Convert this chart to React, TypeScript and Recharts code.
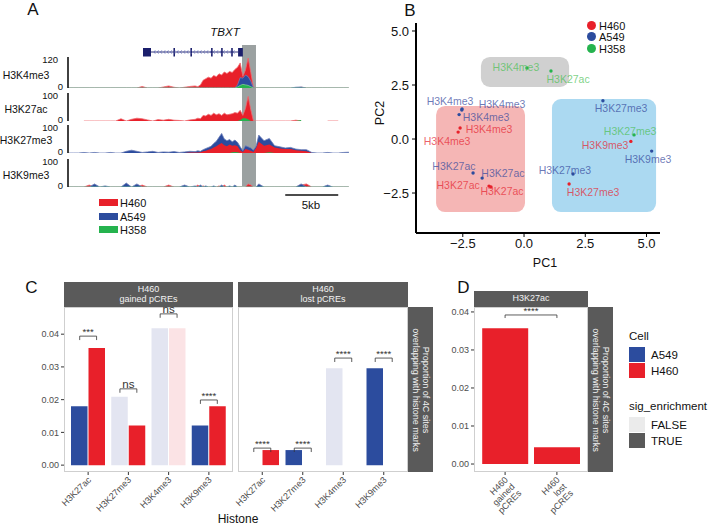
import React from 'react';
import {
  AreaChart, Area, XAxis, YAxis, ComposedChart, Line, LineChart,
  ReferenceArea, ReferenceLine, ReferenceDot, ScatterChart, Scatter,
  BarChart, Bar, Cell,
} from 'recharts';

const FONT = '"Liberation Sans", Arial, Helvetica, sans-serif';
const RED = '#e8202a';
const BLUE = '#2c4c9e';
const GREEN = '#25b34e';
const RED_LIGHT = '#fbe3e5';
const BLUE_LIGHT = '#e3e5f1';
const STRIP = '#5a5a5a';
const NAVY = '#1b1f6c';

// ================= Panel A data (genomic tracks, kb from left edge) =================
const trackKb = [
  0, 0.5, 1, 1.5, 2, 2.5, 3, 3.5, 4, 4.5, 5, 5.5, 6, 6.5, 7, 7.5, 8, 8.5, 9, 9.5, 10, 10.5, 11, 11.5,
  12, 12.25, 12.5, 12.75, 13, 13.25, 13.5, 13.75, 14, 14.25, 14.5, 14.75, 15, 15.25, 15.5, 15.75, 16, 16.25, 16.5, 16.75, 17, 17.25, 17.5, 17.75, 18,
  18.5, 19, 19.5, 20, 20.5, 21, 21.5, 22, 22.5, 23, 23.5, 24, 24.5, 25, 25.5, 26, 26.5,
];
const trackNames = ['H3K4me3', 'H3K27ac', 'H3K27me3', 'H3K9me3'];
const trackMax = [120, 100, 100, 100];

const k4H460 = [
  0, 0, 0, 0, 0, 0, 0, 0, 0, 0, 0, 0, 0, 0, 6, 0, 0, 0, 4, 8, 3, 0, 3, 6,
  8, 5, 12, 30, 36, 42, 38, 48, 44, 55, 50, 62, 56, 64, 60, 72, 80, 97, 45, 70, 116, 60, 2, 0, 0,
  0, 0, 0, 0, 0, 0, 0, 3, 0, 0, 0, 0, 0, 0, 0, 0, 0,
];
const k4A549 = [
  0, 0, 0, 0, 0, 0, 0, 0, 0, 0, 0, 0, 0, 0, 0, 0, 0, 0, 0, 0, 0, 0, 0, 0,
  0, 0, 0, 0, 0, 0, 0, 0, 0, 0, 0, 0, 0, 0, 0, 0, 12, 40, 38, 50, 44, 26, 0, 0, 0,
  0, 0, 0, 0, 0, 0, 3, 4, 0, 0, 0, 0, 0, 0, 0, 0, 0,
];
const k4H358 = [
  0, 0, 0, 0, 0, 0, 0, 0, 0, 0, 0, 0, 0, 0, 0, 0, 0, 0, 0, 0, 0, 0, 0, 0,
  0, 0, 0, 0, 0, 0, 0, 0, 0, 0, 0, 0, 0, 0, 0, 0, 4, 10, 14, 12, 10, 5, 0, 0, 0,
  0, 0, 0, 0, 0, 0, 0, 0, 0, 0, 0, 0, 0, 0, 0, 0, 0,
];

const k27acH460 = [
  null, null, null, 0, 0, 0, 0, 0, 0, 0, 8, 0, 6, 10, 8, 4, 0, 5, 3, 6, 3, 2, 0, 4,
  6, 10, 8, 20, 18, 24, 20, 28, 22, 26, 20, 28, 22, 24, 26, 30, 28, 38, 20, 45, 88, 40, 0, 0, 0,
  0, 0, 0, 0, 0, 0, 3, 0, null, null, null, null, 0, 0, 0, null, null,
];
const k27acA549 = [
  null, null, null, 0, 0, 0, 0, 0, 0, 0, 0, 0, 0, 0, 0, 0, 0, 0, 0, 0, 0, 0, 0, 0,
  0, 0, 0, 0, 0, 0, 0, 0, 0, 0, 0, 0, 0, 0, 0, 0, 0, 0, 0, 0, 0, 0, 0, 0, 0,
  0, 0, 0, 0, 0, 0, 0, 0, null, null, null, null, 0, 0, 0, null, null,
];
const k27acH358 = [
  null, null, null, 0, 0, 0, 0, 0, 0, 0, 0, 0, 0, 0, 0, 0, 0, 0, 0, 0, 0, 0, 0, 0,
  0, 0, 0, 0, 0, 0, 0, 0, 0, 0, 0, 0, 0, 0, 0, 0, 0, 4, 10, 10, 6, 0, 0, 0, 0,
  0, 0, 0, 0, 0, 0, 0, 4, null, null, null, null, 0, 0, 0, null, null,
];

const k27me3H460 = [
  0, 0, 0, 0, 0, 0, 0, 0, 0, 0, 0, 0, 0, 0, 0, 0, 0, 0, 0, 0, 0, 0, 0, 2,
  2, 2, 3, 6, 8, 12, 14, 20, 24, 30, 36, 28, 24, 30, 26, 28, 24, 10, 4, 14, 12, 8, 4, 18, 40,
  26, 30, 20, 16, 14, 14, 10, 8, 6, 0, 0, 0, 0, 0, 0, 0, 0,
];
const k27me3A549 = [
  0, 0, 0, 2, 0, 2, 0, 0, 2, 0, 0, 6, 10, 6, 2, 4, 6, 2, 4, 3, 5, 2, 4, 6,
  5, 8, 6, 12, 16, 20, 24, 34, 42, 56, 70, 50, 44, 48, 40, 46, 38, 22, 8, 26, 22, 18, 10, 24, 64,
  44, 52, 26, 22, 18, 20, 14, 12, 12, 2, 0, 0, 2, 0, 0, 2, 3,
];
const k27me3H358 = [
  0, 0, 0, 0, 0, 0, 0, 0, 0, 0, 0, 0, 0, 0, 0, 0, 0, 0, 0, 0, 0, 0, 0, 0,
  0, 0, 0, 0, 0, 0, 0, 0, 0, 0, 0, 0, 0, 0, 3, 4, 3, 0, 0, 0, 0, 0, 0, 0, 0,
  0, 3, 0, 0, 0, 0, 0, 0, 0, 0, 0, 0, 0, 0, 0, 0, 0,
];

const k9H460 = [
  0, 0, 0, 0, 7, 0, 0, 0, 0, 0, 0, 0, 0, 0, 7, 0, 0, 0, 0, 7, 0, 0, 0, 0,
  0, 7, 0, 4, 0, 0, 0, 0, 0, 4, 0, 7, 0, 0, 0, 0, 0, 0, 0, 0, 11, 7, 0, 0, 0,
  0, 0, 0, 0, 0, 0, 0, 7, 11, 0, 0, 0, 0, 0, 0, 0, 0,
];
const k9A549 = [
  0, 0, 0, 0, 0, 11, 0, 4, 0, 0, 0, 14, 0, 11, 0, 0, 0, 0, 0, 0, 0, 0, 7, 0,
  4, 0, 7, 0, 4, 0, 0, 4, 0, 0, 7, 0, 0, 4, 0, 7, 0, 0, 0, 0, 0, 0, 0, 0, 11,
  0, 0, 0, 0, 0, 0, 0, 11, 0, 0, 0, 0, 7, 0, 0, 0, 0,
];
const k9H358 = [
  0, 0, 0, 0, 0, 0, 0, 0, 0, 0, 0, 0, 0, 0, 0, 0, 0, 0, 0, 0, 0, 0, 0, 0,
  0, 0, 0, 0, 0, 0, 0, 0, 0, 0, 0, 0, 0, 0, 0, 0, 0, 0, 0, 0, 0, 0, 0, 0, 0,
  0, 0, 0, 0, 0, 0, 0, 0, 0, 0, 0, 0, 0, 0, 0, 0, 0,
];

const geneExonStart = [7.08, 9.95, 11.55, 13.5, 14.45, 15.4, 16.05];
const geneExonEnd = [7.83, 10.1, 11.7, 13.65, 14.6, 15.55, 16.5];
const highlightKb = [16.42, 17.74];
const scaleBarKb = [20.5, 25.5];

// ================= Panel B data (PCA) =================
const pcaCell = ['H358', 'H358', 'H358', 'A549', 'A549', 'A549', 'H460', 'H460', 'A549', 'A549', 'H460', 'H460', 'A549', 'A549', 'H460', 'H460', 'A549'];
const pcaMark = ['H3K4me3', 'H3K27ac', 'H3K27me3', 'H3K4me3', 'H3K4me3', 'H3K4me3', 'H3K4me3', 'H3K4me3', 'H3K27ac', 'H3K27ac', 'H3K27ac', 'H3K27ac', 'H3K27me3', 'H3K27me3', 'H3K27me3', 'H3K9me3', 'H3K9me3'];
const pcaX = [0.12, 1.10, 4.49, -2.54, -2.65, -2.53, -2.61, -2.69, -2.08, -1.71, -1.43, -1.35, 3.22, 2.00, 1.84, 4.36, 5.21];
const pcaY = [3.29, 3.15, 0.19, 1.34, 1.13, 1.39, 0.51, 0.32, -1.57, -1.81, -2.18, -2.22, 1.77, -1.62, -2.08, -0.11, -0.56];
const pcaLabelX = [-0.33, 1.80, 4.33, -3.02, -1.55, -0.90, -1.43, -3.14, -2.86, -0.86, -2.69, -0.90, 3.96, 1.67, 2.82, 3.31, 5.06];
const pcaLabelY = [3.33, 2.78, 0.37, 1.76, 1.02, 1.62, 0.46, -0.09, -1.25, -1.57, -2.13, -2.41, 1.44, -1.44, -2.45, -0.28, -0.93];
const pcaCells = ['H460', 'A549', 'H358'];
const pcaBoxX1 = [-1.76, -3.59, 1.14];
const pcaBoxX2 = [1.84, 0.04, 5.39];
const pcaBoxY1 = [2.41, -3.38, -3.38];
const pcaBoxY2 = [3.80, 1.53, 1.85];
const pcaTicks = [-2.5, 0, 2.5, 5];

// ================= Panel C / D data =================
const histones = ['H3K27ac', 'H3K27me3', 'H3K4me3', 'H3K9me3'];
const gainedA549 = [0.018, 0.0209, 0.0418, 0.0121];
const gainedA549Sig = [true, false, false, true];
const gainedH460 = [0.0358, 0.0121, 0.0418, 0.018];
const gainedH460Sig = [true, true, false, true];
const lostA549 = [0, 0.0046, 0.0296, 0.0296];
const lostA549Sig = [true, true, false, true];
const lostH460 = [0.0046, 0, 0, 0];
const lostH460Sig = [true, true, true, true];
const gainedBracketY = [0.0394, 0.0233, 0.0462, 0.0199];
const gainedBracketLabel = ['***', 'ns', 'ns', '****'];
const lostBracketY = [0.0052, 0.0052, 0.0327, 0.0327];
const lostBracketLabel = ['****', '****', '****', '****'];
const propTicks = [0, 0.01, 0.02, 0.03, 0.04];

const dCategories = ['H460\ngained\npCREs', 'H460\nlost\npCREs'];
const dValues = [0.0357, 0.0044];
const dBracketY = 0.0392;
const dBracketLabel = '****';

// ================= helpers =================
const CELL_COLOR: Record<string, string> = { H460: RED, A549: BLUE, H358: GREEN };
const LABEL_COLOR: Record<string, string> = { H460: '#e52530', A549: '#34489c', H358: '#4cbf55' };

const Txt = ({ x, y, size, anchor = 'middle', color = '#111', italic = false, children }: any) => {
  const tx = anchor === 'middle' ? '-50%' : anchor === 'end' ? '-100%' : '0';
  return (
    <div style={{
      position: 'absolute', left: x, top: y, transform: `translate(${tx},-50%)`,
      fontSize: size, lineHeight: 1, whiteSpace: 'nowrap', color,
      fontStyle: italic ? 'italic' : 'normal',
    }}>{children}</div>
  );
};

const Box = ({ x, y, w, h, bg, border }: any) => (
  <div style={{ position: 'absolute', left: x, top: y, width: w, height: h, background: bg, border, boxSizing: 'border-box' }} />
);

// ---------- Panel A ----------
const TRACK_LAYOUT = [
  { top: 57, base: 88 }, { top: 93, base: 121 }, { top: 125, base: 153 }, { top: 159, base: 187 },
];
const trackSeries: any[] = [
  { H460: k4H460, A549: k4A549, H358: k4H358 },
  { H460: k27acH460, A549: k27acA549, H358: k27acH358 },
  { H460: k27me3H460, A549: k27me3A549, H358: k27me3H358 },
  { H460: k9H460, A549: k9A549, H358: k9H358 },
];
const TRACK_ORDER = [['H460', 'A549', 'H358'], ['A549', 'H460', 'H358'], ['A549', 'H460', 'H358'], ['H460', 'A549', 'H358']];
const TRACK_STROKE = [['H460', 'A549', 'H358'], ['H460'], ['A549'], ['H460', 'A549', 'H358']];
const TRACK_FILL: Record<string, string> = { H460: RED, A549: BLUE, H358: GREEN };
const TRACK_LINE: Record<string, string> = { H460: '#ef6a70', A549: '#6d7fb8', H358: '#7fd08f' };

const TrackTick = (props: any) => {
  const { x, y, payload } = props;
  const zero = payload.value === 0;
  return (
    <text x={x - (zero ? 5 : 10)} y={y + (zero ? -2 : 2)} textAnchor="end" dominantBaseline="central" fontSize={9.5} fill="#111">
      {payload.value}
    </text>
  );
};

const Track = ({ i }: { i: number }) => {
  const { top, base } = TRACK_LAYOUT[i];
  const s = trackSeries[i];
  const rows = trackKb.map((kb, j) => ({ kb, H460: s.H460[j], A549: s.A549[j], H358: s.H358[j] }));
  return (
    <div style={{ position: 'absolute', left: 0, top: top - 6 }}>
      <AreaChart width={352} height={base - top + 12} data={rows} margin={{ top: 6, right: 0, bottom: 6, left: 0 }}>
        <XAxis type="number" dataKey="kb" domain={[0, 26.8]} hide allowDataOverflow />
        <YAxis width={68} type="number" domain={[0, trackMax[i]]} ticks={[0, trackMax[i]]} interval={0}
          tickSize={0} tickMargin={0} tickLine={false} axisLine={{ stroke: '#111', strokeWidth: 1.6 }}
          tick={TrackTick} allowDataOverflow />
        {TRACK_ORDER[i].map((k) => (
          <Area key={k} type="linear" dataKey={k} fill={TRACK_FILL[k]} fillOpacity={1}
            stroke={TRACK_STROKE[i].includes(k) ? TRACK_LINE[k] : 'none'} strokeWidth={0.8}
            dot={false} activeDot={false} isAnimationActive={false} baseValue={0} />
        ))}
      </AreaChart>
    </div>
  );
};

const Intron = (p: any) => {
  const { x1, x2, y1 } = p;
  const marks = [];
  for (let x = x1 + 3; x < x2 - 3; x += 3.3) {
    marks.push(<path key={x} d={`M${x + 1.3},${y1 - 1.7}L${x},${y1}L${x + 1.3},${y1 + 1.7}`} stroke="#5a63b5" strokeWidth={0.7} fill="none" />);
  }
  return (
    <g>
      <line x1={x1} y1={y1} x2={x2} y2={y1} stroke={NAVY} strokeWidth={0.9} />
      {marks}
    </g>
  );
};

const PanelAOverlay = () => {
  const barRows = scaleBarKb.map((kb) => ({ kb, y: 195 }));
  return (
    <div style={{ position: 'absolute', left: 0, top: 0 }}>
      <ComposedChart width={352} height={215} data={barRows} margin={{ top: 0, right: 0, bottom: 0, left: 68 }}>
        <XAxis type="number" dataKey="kb" domain={[0, 26.8]} hide allowDataOverflow />
        <YAxis type="number" domain={[0, 215]} reversed hide allowDataOverflow />
        <ReferenceArea x1={highlightKb[0]} x2={highlightKb[1]} y1={45} y2={186} fill="#9ba1a1" fillOpacity={1} stroke="none" />
        <ReferenceLine segment={[{ x: geneExonEnd[0], y: 52 }, { x: geneExonStart[geneExonStart.length - 1], y: 52 }]} shape={Intron} />
        {geneExonStart.map((s, i) => (
          <ReferenceArea key={i} x1={s} x2={geneExonEnd[i]} y1={48} y2={56.5} fill={NAVY} fillOpacity={1} stroke="none" />
        ))}
        <Line dataKey="y" stroke="#111" strokeWidth={1.6} dot={false} activeDot={false} isAnimationActive={false} />
      </ComposedChart>
    </div>
  );
};

// ---------- Panel B ----------
const fmtPc = (v: number) => (v < 0 ? '\u2212' : '') + Math.abs(v).toFixed(1);
const PcaDot = (p: any) => <circle cx={p.cx} cy={p.cy} r={1.7} fill={CELL_COLOR[p.payload.cell]} />;
const PcaLabel = (p: any) => (
  <text x={p.cx} y={p.cy} textAnchor="middle" dominantBaseline="central" fontSize={10.5}
    fill={LABEL_COLOR[p.payload.cell]} fillOpacity={0.72}>{p.payload.mark}</text>
);
const BOX_FILL = ['#d0d0d0', '#f5b6b5', '#abd9f1'];

const PcaPanel = () => {
  const pts = pcaMark.map((m, i) => ({ mark: m, cell: pcaCell[i], x: pcaX[i], y: pcaY[i] }));
  const labs = pcaMark.map((m, i) => ({ mark: m, cell: pcaCell[i], x: pcaLabelX[i], y: pcaLabelY[i] }));
  return (
    <div style={{ position: 'absolute', left: 360, top: 0 }}>
      <ScatterChart width={310} height={275} margin={{ top: 23, right: 10, bottom: 0, left: 0 }}>
        <XAxis type="number" dataKey="x" domain={[-4.41, 5.55]} ticks={pcaTicks} interval={0} height={42}
          tickFormatter={fmtPc} tick={{ fontSize: 13, fill: '#111' }} tickSize={4} tickMargin={2}
          axisLine={{ stroke: '#000', strokeWidth: 2 }} tickLine={{ stroke: '#000' }} />
        <YAxis type="number" dataKey="y" domain={[-4.35, 5.37]} ticks={pcaTicks} interval={0} width={56}
          tickFormatter={fmtPc} tick={{ fontSize: 13, fill: '#111' }} tickSize={4} tickMargin={3}
          axisLine={{ stroke: '#000', strokeWidth: 2 }} tickLine={{ stroke: '#000' }} />
        {pcaBoxX1.map((x1, i) => (
          <ReferenceArea key={i} x1={x1} x2={pcaBoxX2[i]} y1={pcaBoxY1[i]} y2={pcaBoxY2[i]}
            shape={(p: any) => <rect x={p.x} y={p.y} width={p.width} height={p.height} rx={9} ry={9} fill={BOX_FILL[i]} />} />
        ))}
        {pcaCells.map((c) => (
          <Scatter key={c} name={c} data={pts.filter((p) => p.cell === c)} shape={PcaDot} isAnimationActive={false} />
        ))}
        <Scatter name="labels" data={labs} shape={PcaLabel} isAnimationActive={false} legendType="none" />
      </ScatterChart>
    </div>
  );
};

// ---------- Panel C / D ----------
const RotTick = (props: any) => {
  const { x, y, payload } = props;
  const lines = String(payload.value).split('\n');
  return (
    <g transform={`translate(${x},${y})`}>
      <text transform="rotate(-45)" textAnchor="end" fontSize={9} fill="#4d4d4d">
        {lines.map((l, i) => (
          <tspan key={i} x={0} dy={i === 0 ? '0.55em' : '1.05em'}>{l}</tspan>
        ))}
      </text>
    </g>
  );
};

const C_DOMAIN = [-0.0021, 0.0483];
const D_DOMAIN = [-0.0021, 0.0413];

const Facet = ({ left, yw, width, a549, a549Sig, h460, h460Sig }: any) => {
  const rows = histones.map((h, i) => ({ histone: h, A549: a549[i], H460: h460[i] }));
  return (
    <div style={{ position: 'absolute', left, top: 307 }}>
      <BarChart width={width} height={215} data={rows} margin={{ top: 0, right: 0, bottom: 0, left: 0 }} barGap={1}>
        <XAxis dataKey="histone" padding={{ left: 4, right: 4 }} axisLine={false} tickLine={{ stroke: '#333' }}
          tickSize={3} tickMargin={2} interval={0} height={50} tick={RotTick} />
        <YAxis width={yw} hide={yw === 0} type="number" domain={C_DOMAIN} ticks={propTicks} interval={0} allowDataOverflow
          tickFormatter={(v: number) => v.toFixed(2)} tick={{ fontSize: 9, fill: '#4d4d4d' }}
          tickLine={{ stroke: '#333' }} tickSize={3} tickMargin={2} axisLine={false} />
        <Bar dataKey="A549" barSize={16.5} isAnimationActive={false}>
          {rows.map((_, i) => <Cell key={i} fill={a549Sig[i] ? BLUE : BLUE_LIGHT} />)}
        </Bar>
        <Bar dataKey="H460" barSize={16.5} isAnimationActive={false}>
          {rows.map((_, i) => <Cell key={i} fill={h460Sig[i] ? RED : RED_LIGHT} />)}
        </Bar>
      </BarChart>
    </div>
  );
};

const Brackets = ({ left, width, xDomain, yDomain, x1s, x2s, ys, labels, depth }: any) => (
  <div style={{ position: 'absolute', left, top: 307 }}>
    <LineChart width={width} height={165} margin={{ top: 0, right: 0, bottom: 0, left: 0 }}>
      <XAxis type="number" dataKey="x" domain={xDomain} hide allowDataOverflow />
      <YAxis type="number" domain={yDomain} hide allowDataOverflow />
      {ys.map((y: number, i: number) => (
        <Line key={`l${i}`} type="linear" dataKey="y" stroke="#333" strokeWidth={0.8} dot={false} activeDot={false}
          isAnimationActive={false}
          data={[{ x: x1s[i], y: y - depth }, { x: x1s[i], y }, { x: x2s[i], y }, { x: x2s[i], y: y - depth }]} />
      ))}
      {ys.map((y: number, i: number) => (
        <ReferenceDot key={`d${i}`} x={(x1s[i] + x2s[i]) / 2} y={y} r={0} fill="none" stroke="none"
          label={{
            value: labels[i], position: 'top', offset: 1,
            fontSize: labels[i] === 'ns' ? 11.5 : 9.5, fill: '#333',
          }} />
      ))}
    </LineChart>
  </div>
);

const BR_HALF = 0.21;
const catPos = histones.map((_, i) => i + 1);

const PanelD = () => {
  const rows = dCategories.map((c, i) => ({ cat: c, value: dValues[i] }));
  return (
    <div style={{ position: 'absolute', left: 410, top: 307 }}>
      <BarChart width={178} height={215} data={rows} margin={{ top: 0, right: 0, bottom: 0, left: 0 }}>
        <XAxis dataKey="cat" padding={{ left: 5.2, right: 5.2 }} axisLine={false} tickLine={{ stroke: '#333' }}
          tickSize={3} tickMargin={2} interval={0} height={50} tick={RotTick} />
        <YAxis width={64} type="number" domain={D_DOMAIN} ticks={propTicks} interval={0} allowDataOverflow
          tickFormatter={(v: number) => v.toFixed(2)} tick={{ fontSize: 9, fill: '#4d4d4d' }}
          tickLine={{ stroke: '#333' }} tickSize={3} tickMargin={2} axisLine={false} />
        <Bar dataKey="value" barSize={46} fill={RED} isAnimationActive={false} />
      </BarChart>
    </div>
  );
};

const Strip = ({ x, y, w, h, lines }: any) => (
  <div style={{
    position: 'absolute', left: x, top: y, width: w, height: h, background: STRIP, color: '#f2f2f2',
    fontSize: 9, lineHeight: 1.1, display: 'flex', flexDirection: 'column', alignItems: 'center', justifyContent: 'center',
    textAlign: 'center',
  }}>
    {lines.map((l: string, i: number) => <div key={i}>{l}</div>)}
  </div>
);

const VStrip = ({ x, y, w, h, lines }: any) => (
  <div style={{ position: 'absolute', left: x, top: y, width: w, height: h, background: STRIP }}>
    <div style={{
      position: 'absolute', left: '50%', top: '50%', transform: 'translate(-50%,-50%) rotate(90deg)',
      color: '#f2f2f2', fontSize: 9, lineHeight: 1.15, whiteSpace: 'nowrap', textAlign: 'center',
    }}>
      {lines.map((l: string, i: number) => <div key={i}>{l}</div>)}
    </div>
  </div>
);

export default function App() {
  const trackLabelY = [75, 109, 140, 175];
  return (
    <div style={{ position: 'absolute', left: 0, top: 0, width: 709, height: 526, background: '#fff', fontFamily: FONT, overflow: 'hidden' }}>
      <style>{'.recharts-surface{overflow:visible}'}</style>
      {/* ===== Panel A ===== */}
      <Txt x={33} y={9} size={17}>A</Txt>
      <PanelAOverlay />
      {trackNames.map((_, i) => <Track key={i} i={i} />)}
      {trackNames.map((n, i) => <Txt key={n} x={26} y={trackLabelY[i]} size={10.5}>{n}</Txt>)}
      <Txt x={225} y={33} size={11.5} italic>TBXT</Txt>
      <Txt x={311} y={206} size={11.5}>5kb</Txt>
      <Box x={99} y={199} w={19} h={6.5} bg={RED} />
      <Box x={99} y={213} w={19} h={6.5} bg={BLUE} />
      <Box x={99} y={226} w={19} h={6.5} bg={GREEN} />
      <Txt x={120} y={202.5} size={11} anchor="start">H460</Txt>
      <Txt x={120} y={216.5} size={11} anchor="start">A549</Txt>
      <Txt x={120} y={229.5} size={11} anchor="start">H358</Txt>

      {/* ===== Panel B ===== */}
      <Txt x={410} y={9.5} size={17}>B</Txt>
      <PcaPanel />
      <Txt x={545} y={263} size={12.5}>PC1</Txt>
      <div style={{ position: 'absolute', left: 380, top: 113, transform: 'translate(-50%,-50%) rotate(-90deg)', fontSize: 12.5, lineHeight: 1, color: '#111' }}>PC2</div>
      {pcaCells.map((c, i) => (
        <div key={c} style={{ position: 'absolute', left: 586.5, top: [21, 31.5, 44][i], width: 9, height: 9, borderRadius: '50%', background: CELL_COLOR[c] }} />
      ))}
      <Txt x={599} y={25.5} size={11} anchor="start">H460</Txt>
      <Txt x={599} y={37} size={11} anchor="start">A549</Txt>
      <Txt x={599} y={49} size={11} anchor="start">H358</Txt>

      {/* ===== Panel C ===== */}
      <Txt x={31.5} y={286.5} size={17}>C</Txt>
      <Strip x={64} y={282} w={169} h={25} lines={['H460', 'gained pCREs']} />
      <Strip x={238} y={282} w={170} h={25} lines={['H460', 'lost pCREs']} />
      <VStrip x={408} y={307} w={25} h={165} lines={['Proportion of 4C sites', 'overlapping with histone marks']} />
      <Facet left={0} yw={64} width={233} a549={gainedA549} a549Sig={gainedA549Sig} h460={gainedH460} h460Sig={gainedH460Sig} />
      <Facet left={238} yw={0} width={170} a549={lostA549} a549Sig={lostA549Sig} h460={lostH460} h460Sig={lostH460Sig} />
      <Box x={64} y={307} w={169} h={165} border="1px solid #cfcfcf" />
      <Box x={238} y={307} w={170} h={165} border="1px solid #cfcfcf" />
      <Brackets left={64} width={169} xDomain={[0.4, 4.6]} yDomain={C_DOMAIN}
        x1s={catPos.map((p) => p - BR_HALF)} x2s={catPos.map((p) => p + BR_HALF)}
        ys={gainedBracketY} labels={gainedBracketLabel} depth={0.0012} />
      <Brackets left={238} width={170} xDomain={[0.4, 4.6]} yDomain={C_DOMAIN}
        x1s={catPos.map((p) => p - BR_HALF)} x2s={catPos.map((p) => p + BR_HALF)}
        ys={lostBracketY} labels={lostBracketLabel} depth={0.0012} />
      <Txt x={238} y={519} size={12}>Histone</Txt>

      {/* ===== Panel D ===== */}
      <Txt x={463.5} y={286.5} size={17}>D</Txt>
      <Strip x={474} y={291} w={114} h={16} lines={['H3K27ac']} />
      <VStrip x={588} y={307} w={25} h={165} lines={['Proportion of 4C sites', 'overlapping with histone marks']} />
      <PanelD />
      <Box x={474} y={307} w={114} h={165} border="1px solid #cfcfcf" />
      <Brackets left={474} width={114} xDomain={[0.4, 2.6]} yDomain={D_DOMAIN}
        x1s={[1]} x2s={[2]} ys={[dBracketY]} labels={[dBracketLabel]} depth={0.0008} />

      {/* ===== Legend C/D ===== */}
      <Txt x={629} y={337} size={11.5} anchor="start">Cell</Txt>
      <Box x={629} y={347} w={16} h={15} bg={BLUE} />
      <Box x={629} y={363} w={16} h={15} bg={RED} />
      <Txt x={651} y={356} size={11.5} anchor="start">A549</Txt>
      <Txt x={651} y={372} size={11.5} anchor="start">H460</Txt>
      <Txt x={629} y={407} size={11.5} anchor="start">sig_enrichment</Txt>
      <Box x={629} y={417} w={16} h={15} bg="#ebebeb" />
      <Box x={629} y={433} w={16} h={15} bg="#595959" />
      <Txt x={651} y={426} size={11.5} anchor="start">FALSE</Txt>
      <Txt x={651} y={442} size={11.5} anchor="start">TRUE</Txt>
    </div>
  );
}
